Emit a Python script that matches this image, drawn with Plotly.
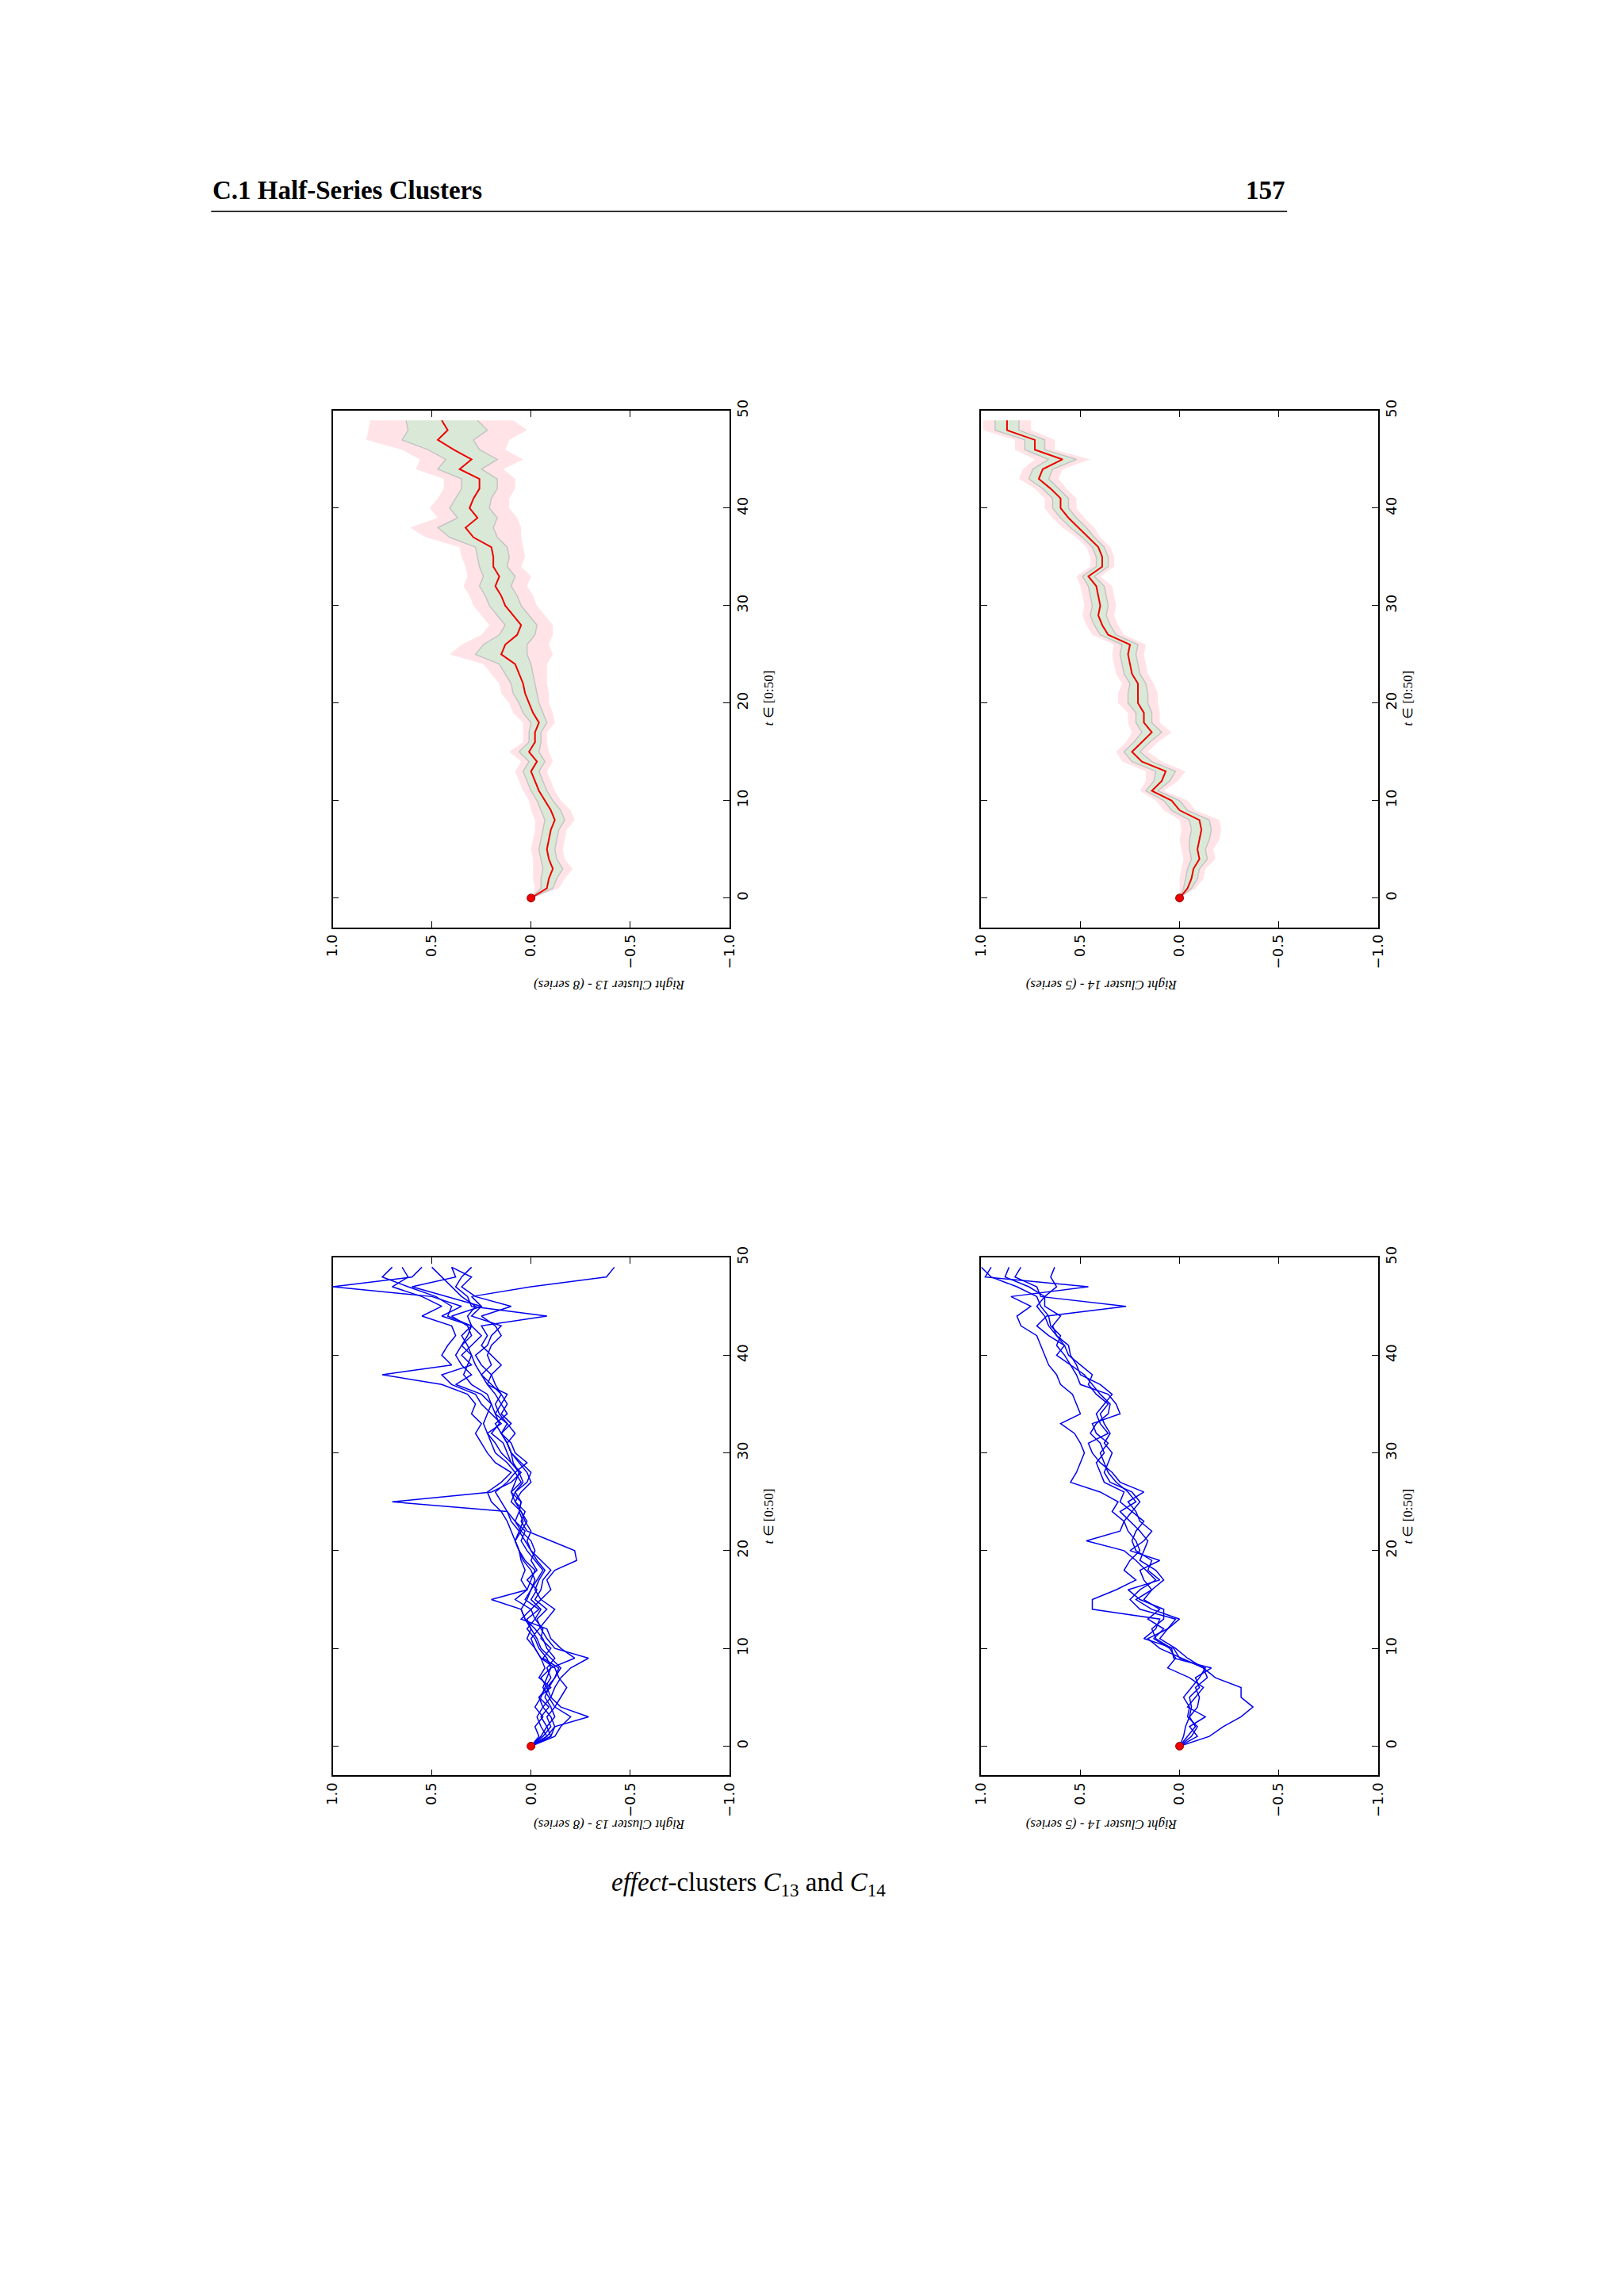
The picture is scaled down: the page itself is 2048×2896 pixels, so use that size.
import plotly.graph_objects as go
from plotly.subplots import make_subplots

t = list(range(50))
mean13 = [0,-0.08,-0.09,-0.11,-0.09,-0.08,-0.09,-0.10,-0.12,-0.10,-0.07,-0.04,-0.02,0.00,-0.03,0.01,-0.02,-0.02,-0.04,-0.01,
          0.01,0.03,0.04,0.06,0.08,0.15,0.13,0.07,0.05,0.09,0.13,0.15,0.18,0.16,0.19,0.19,0.20,0.29,0.33,0.27,
          0.31,0.29,0.26,0.26,0.36,0.30,0.39,0.47,0.42,0.45]
std13 = [0,0.03,0.04,0.05,0.04,0.04,0.04,0.04,0.05,0.05,0.04,0.04,0.04,0.04,0.04,0.05,0.03,0.03,0.04,0.05,
         0.05,0.06,0.06,0.07,0.08,0.13,0.11,0.09,0.08,0.08,0.08,0.08,0.08,0.08,0.07,0.08,0.08,0.12,0.14,0.10,
         0.10,0.09,0.09,0.09,0.11,0.13,0.13,0.18,0.20,0.18]
mean14 = [0,-0.04,-0.06,-0.07,-0.10,-0.09,-0.10,-0.11,-0.10,0.00,0.04,0.14,0.09,0.07,0.19,0.24,0.19,0.14,0.18,0.18,
          0.21,0.21,0.21,0.24,0.25,0.26,0.25,0.36,0.39,0.41,0.40,0.41,0.42,0.46,0.39,0.39,0.41,0.46,0.51,0.56,
          0.60,0.60,0.65,0.71,0.69,0.59,0.73,0.73,0.87,0.87]
std14 = [0,0.02,0.03,0.03,0.04,0.04,0.05,0.05,0.05,0.04,0.04,0.03,0.04,0.05,0.05,0.04,0.04,0.05,0.04,0.04,
         0.05,0.05,0.04,0.04,0.04,0.04,0.04,0.04,0.04,0.04,0.04,0.04,0.04,0.03,0.03,0.03,0.03,0.03,0.04,0.04,
         0.04,0.04,0.04,0.05,0.05,0.07,0.05,0.05,0.06,0.06]

series13 = [
 [0,-0.05,-0.08,-0.12,-0.10,-0.07,-0.09,-0.12,-0.15,-0.10,-0.05,-0.03,0.00,0.02,-0.04,0.03,0.00,-0.03,-0.06,-0.02,0.02,0.05,0.03,0.08,0.12,0.70,0.20,0.10,0.05,0.10,0.15,0.18,0.22,0.15,0.20,0.25,0.28,0.40,0.45,0.30,0.35,0.30,0.25,0.30,0.45,0.35,0.50,1.00,0.60,0.55],
 [0,-0.10,-0.12,-0.29,-0.15,-0.10,-0.12,-0.15,-0.20,-0.29,-0.12,-0.08,-0.05,-0.03,-0.08,-0.02,-0.05,-0.06,-0.10,-0.05,0.00,0.02,0.00,0.03,0.05,0.10,0.08,0.02,0.00,0.05,0.10,0.12,0.15,0.10,0.15,0.12,0.15,0.20,0.25,0.20,0.22,0.20,0.15,0.18,0.25,0.10,0.28,0.35,0.30,0.40],
 [0,-0.08,-0.05,-0.03,-0.06,-0.10,-0.08,-0.05,-0.10,-0.22,-0.15,-0.10,-0.08,0.05,0.00,0.08,0.02,0.00,-0.02,0.03,0.06,0.08,0.10,0.12,0.15,0.20,0.22,0.15,0.10,0.18,0.22,0.25,0.28,0.25,0.30,0.28,0.32,0.45,0.75,0.40,0.45,0.42,0.38,0.40,0.55,0.45,0.55,0.70,0.62,0.65],
 [0,-0.06,-0.10,-0.08,-0.12,-0.09,-0.06,-0.08,-0.10,-0.08,-0.04,-0.02,0.02,-0.02,-0.05,0.00,-0.03,0.02,-0.03,0.00,-0.02,0.00,0.05,0.02,0.05,0.08,0.10,0.05,0.08,0.02,0.08,0.10,0.15,0.18,0.12,0.15,0.18,0.22,0.20,0.25,0.28,0.22,0.20,0.15,0.30,0.25,0.30,0.00,-0.38,-0.42],
 [0,-0.12,-0.15,-0.20,-0.12,-0.15,-0.18,-0.14,-0.12,-0.05,-0.02,0.00,-0.04,-0.08,-0.12,-0.05,-0.10,-0.08,-0.12,-0.23,-0.22,-0.10,0.02,0.05,0.03,0.08,0.05,0.00,0.02,0.06,0.10,0.12,0.08,0.12,0.16,0.18,0.15,0.18,0.20,0.15,0.20,0.25,0.22,0.25,-0.08,0.30,0.32,0.38,0.35,0.30],
 [0,-0.04,-0.02,-0.06,-0.02,-0.05,-0.07,-0.10,-0.08,-0.12,-0.08,-0.06,-0.02,0.03,0.05,0.02,0.00,-0.02,0.00,0.04,0.06,0.08,0.06,0.10,0.12,0.15,0.18,0.12,0.08,0.12,0.18,0.20,0.22,0.24,0.22,0.20,0.25,0.38,0.30,0.35,0.38,0.35,0.32,0.30,0.42,0.40,0.48,0.62,0.75,0.70],
 [0,-0.08,-0.12,-0.10,-0.06,-0.04,-0.08,-0.12,-0.14,-0.06,-0.10,-0.05,-0.06,-0.02,0.00,-0.05,-0.02,-0.04,-0.07,-0.03,0.00,0.03,0.06,0.04,0.06,0.05,0.08,0.04,0.06,0.10,0.12,0.14,0.20,0.16,0.18,0.15,0.12,0.22,0.25,0.28,0.30,0.32,0.35,0.30,0.32,0.28,0.35,0.40,0.45,0.50],
 [0,-0.10,-0.08,-0.05,-0.09,-0.04,-0.10,-0.04,-0.07,-0.05,-0.02,0.02,0.00,0.03,0.05,0.20,0.02,0.05,0.03,0.05,0.06,0.08,0.05,0.08,0.06,0.05,0.10,0.08,0.06,0.09,0.10,0.12,0.15,0.12,0.18,0.20,0.22,0.30,0.34,0.32,0.30,0.35,0.30,0.32,0.40,0.25,0.42,0.60,0.38,0.40],
]
series14 = [
 [0,-0.15,-0.22,-0.31,-0.37,-0.31,-0.31,-0.18,-0.12,-0.04,0.02,0.10,0.06,0.02,0.20,0.25,0.20,0.12,0.17,0.22,0.28,0.47,0.30,0.28,0.34,0.31,0.40,0.55,0.52,0.50,0.48,0.50,0.53,0.60,0.50,0.52,0.54,0.60,0.62,0.66,0.68,0.70,0.72,0.80,0.82,0.75,0.85,0.46,0.98,0.95],
 [0,-0.06,-0.09,-0.04,-0.05,-0.02,-0.06,-0.10,-0.13,0.00,0.03,0.18,0.12,0.10,0.44,0.44,0.32,0.22,0.28,0.25,0.20,0.22,0.26,0.28,0.24,0.30,0.28,0.38,0.40,0.42,0.38,0.40,0.45,0.42,0.36,0.35,0.40,0.44,0.48,0.55,0.62,0.58,0.66,0.72,0.67,0.27,0.70,0.72,0.83,0.80],
 [0,-0.09,-0.05,-0.13,-0.04,-0.08,-0.12,-0.05,0.06,0.02,0.05,0.13,0.08,0.16,0.10,0.18,0.14,0.08,0.12,0.20,0.18,0.16,0.20,0.25,0.30,0.22,0.26,0.32,0.36,0.38,0.40,0.36,0.42,0.44,0.30,0.32,0.36,0.50,0.52,0.55,0.58,0.62,0.60,0.65,0.66,0.70,0.72,0.82,0.95,1.00],
 [0,-0.02,-0.03,-0.05,-0.09,-0.10,-0.08,-0.14,-0.12,-0.01,0.10,0.16,0.06,0.00,0.14,0.22,0.14,0.18,0.20,0.10,0.25,0.18,0.14,0.20,0.22,0.26,0.18,0.30,0.34,0.40,0.44,0.46,0.36,0.40,0.42,0.38,0.34,0.40,0.50,0.52,0.55,0.56,0.62,0.64,0.60,0.68,0.68,0.62,0.65,0.63],
 [0,-0.04,-0.08,-0.05,-0.06,-0.05,-0.10,-0.08,-0.16,0.03,0.04,0.12,0.14,0.08,0.08,0.20,0.26,0.10,0.16,0.14,0.22,0.24,0.22,0.18,0.24,0.20,0.24,0.35,0.38,0.36,0.34,0.38,0.35,0.38,0.40,0.36,0.42,0.46,0.44,0.50,0.56,0.58,0.62,0.66,0.68,0.72,0.68,0.76,0.88,0.86],
]

fig = make_subplots(rows=2, cols=2)
PINK = "rgba(255,200,208,0.5)"
GREEN = "rgba(205,235,210,0.75)"

def band(mean, std, col):
    lo2 = [m - 2*s for m, s in zip(mean, std)]
    hi2 = [m + 2*s for m, s in zip(mean, std)]
    lo1 = [m - s for m, s in zip(mean, std)]
    hi1 = [m + s for m, s in zip(mean, std)]
    fig.add_trace(go.Scatter(x=hi2, y=t, mode="lines", line=dict(width=0), showlegend=False), 1, col)
    fig.add_trace(go.Scatter(x=lo2, y=t, mode="lines", line=dict(width=0), fill="tonextx", fillcolor=PINK, showlegend=False), 1, col)
    fig.add_trace(go.Scatter(x=hi1, y=t, mode="lines", line=dict(width=1.5, color="#c4c4c4"), showlegend=False), 1, col)
    fig.add_trace(go.Scatter(x=lo1, y=t, mode="lines", line=dict(width=1.5, color="#c4c4c4"), fill="tonextx", fillcolor=GREEN, showlegend=False), 1, col)
    fig.add_trace(go.Scatter(x=mean, y=t, mode="lines", line=dict(width=2, color="#ee0000"), showlegend=False), 1, col)
    fig.add_trace(go.Scatter(x=[mean[0]], y=[0], mode="markers", marker=dict(size=10, color="#ee0000", line=dict(width=1, color="#880000")), showlegend=False), 1, col)

band(mean13, std13, 1)
band(mean14, std14, 2)
for s in series13:
    fig.add_trace(go.Scatter(x=s, y=t, mode="lines", line=dict(width=1.5, color="#0000ee"), showlegend=False), 2, 1)
for s in series14:
    fig.add_trace(go.Scatter(x=s, y=t, mode="lines", line=dict(width=1.5, color="#0000ee"), showlegend=False), 2, 2)
for c in (1, 2):
    fig.add_trace(go.Scatter(x=[0], y=[0], mode="markers", marker=dict(size=10, color="#ee0000", line=dict(width=1, color="#880000")), showlegend=False), 2, c)

xd = {1: [0.1976, 0.4444], 2: [0.6011, 0.8479]}
yd = {1: [0.6018, 0.8279], 2: [0.2306, 0.4573]}
ax = dict(showline=True, linecolor="black", linewidth=1.5, mirror="ticks", ticks="inside", ticklen=8,
          tickcolor="black", showgrid=False, zeroline=False, tickfont=dict(family="DejaVu Sans", size=18, color="black"))
for r in (1, 2):
    for c in (1, 2):
        fig.update_xaxes(ax, range=[1, -1], tickvals=[1, 0.5, 0, -0.5, -1],
                         ticktext=["1.0", "0.5", "0.0", "\u22120.5", "\u22121.0"], tickangle=-90,
                         domain=xd[c], row=r, col=c)
        fig.update_yaxes(ax, range=[-3, 50], tickvals=[0, 10, 20, 30, 40, 50], side="right", tickangle=-90,
                         domain=yd[r], row=r, col=c)

anns = []
titles = {1: "Right Cluster 13 - (8 series)", 2: "Right Cluster 14 - (5 series)"}
xc = {1: 0.3215, 2: 0.7245}
tx = {1: 0.4690, 2: 0.8724}
ty = {1: 1 - 0.4235, 2: 1 - 0.7950}
for r in (1, 2):
    for c in (1, 2):
        anns.append(dict(x=xc[c], y=ty[r], xref="paper", yref="paper", text="<i>" + titles[c] + "</i>", textangle=180,
                         showarrow=False, font=dict(family="Liberation Serif", size=17, color="black")))
        anns.append(dict(x=tx[c], y=(yd[r][0] + yd[r][1]) / 2, xref="paper", yref="paper", text="<i>t</i> \u2208 [0:50]",
                         textangle=-90, showarrow=False, font=dict(family="Liberation Serif", size=17, color="black")))
anns.append(dict(x=0.1220, y=1 - 0.0825, xref="paper", yref="paper", xanchor="left", yanchor="bottom",
                 text="<b>C.1 Half-Series Clusters</b>",
                 showarrow=False, font=dict(family="Liberation Serif", size=33, color="black")))
anns.append(dict(x=0.7914, y=1 - 0.0825, xref="paper", yref="paper", xanchor="right", yanchor="bottom", text="<b>157</b>",
                 showarrow=False, font=dict(family="Liberation Serif", size=33, color="black")))
anns.append(dict(x=0.4563, y=1 - 0.8247, xref="paper", yref="paper", text="<i>effect</i>-clusters <i>C</i><sub>13</sub> and <i>C</i><sub>14</sub>",
                 showarrow=False, font=dict(family="Liberation Serif", size=33, color="black")))

fig.update_layout(width=2048, height=2896, margin=dict(l=0, r=0, t=0, b=0), paper_bgcolor="white",
                  plot_bgcolor="white", annotations=anns,
                  shapes=[dict(type="line", xref="paper", yref="paper", x0=0.1220, x1=0.7914, y0=1 - 0.0848, y1=1 - 0.0848,
                               line=dict(color="black", width=1.5))])
fig.write_html("out.html")
